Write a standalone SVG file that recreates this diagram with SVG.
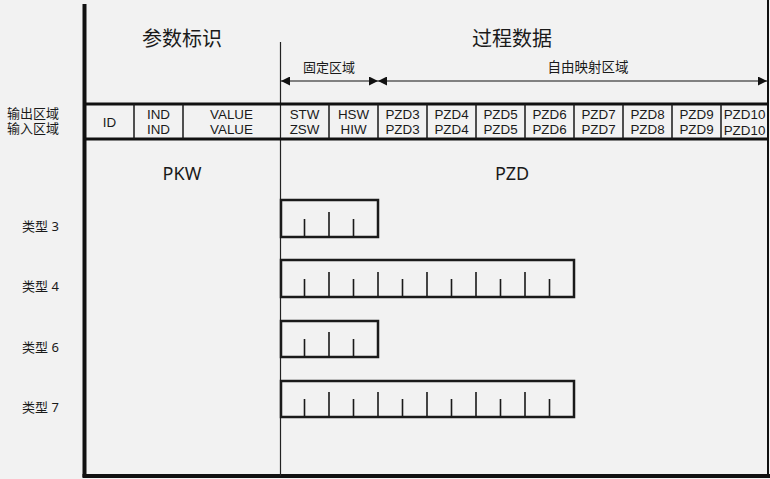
<svg xmlns="http://www.w3.org/2000/svg" width="770" height="479" viewBox="0 0 770 479">
<defs>
<style>
text{font-family:"Noto Sans","Noto Sans CJK SC",sans-serif;fill:#1a1a1a}
.t{font-family:"Liberation Sans","Noto Sans",sans-serif;font-size:13.4px;text-anchor:middle}
.big{font-size:20px;text-anchor:middle}
.mid{font-size:18px;text-anchor:middle}
.lab{font-size:13px}
.lab2{font-family:"Liberation Sans","Noto Sans CJK SC",sans-serif;font-size:13px}
.box{fill:none;stroke:#1a1a1a;stroke-width:2.5}
.tick{stroke:#1a1a1a;stroke-width:1.6}
.div{stroke:#1a1a1a;stroke-width:1.5}
</style>
<marker id="ah" viewBox="0 0 10 10" refX="10" refY="5" markerWidth="9" markerHeight="9" markerUnits="userSpaceOnUse" orient="auto-start-reverse">
<path d="M0,0 L10,5 L0,10 z" fill="#111"/>
</marker>
</defs>
<rect width="770" height="479" fill="#f2f2f2"/>
<g id="frame">
<line x1="84.5" y1="4" x2="84.5" y2="477" stroke="#111" stroke-width="4"/>
<line x1="82.5" y1="476" x2="770" y2="476" stroke="#111" stroke-width="4"/>
<line x1="768" y1="0" x2="768" y2="476" stroke="#111" stroke-width="2"/>
<line x1="280.5" y1="42" x2="280.5" y2="476" stroke="#222" stroke-width="1.2"/>
</g>
<g id="headers">
<text class="big" x="182" y="46">参数标识</text>
<text class="big" x="512" y="46">过程数据</text>
<text class="lab" x="329" y="72" text-anchor="middle">固定区域</text>
<text class="lab" x="588" y="72" text-anchor="middle" style="font-size:13.5px">自由映射区域</text>
<text class="lab2" x="7" y="118">输出区域<tspan x="7" y="132.5">输入区域</tspan></text>
<text class="mid" x="182" y="180">PKW</text>
<text class="mid" x="512" y="180">PZD</text>
</g>
<g id="connectors">
<line x1="281" y1="81" x2="378" y2="81" stroke="#111" stroke-width="1.2" marker-start="url(#ah)" marker-end="url(#ah)"/>
<line x1="378" y1="81" x2="767" y2="81" stroke="#111" stroke-width="1.2" marker-start="url(#ah)" marker-end="url(#ah)"/>
</g>
<g id="table">
<line x1="84" y1="104" x2="768" y2="104" stroke="#111" stroke-width="3"/>
<line x1="84" y1="139" x2="768" y2="139" stroke="#111" stroke-width="3"/>
<path class="div" d="M134,104V139M183,104V139M329,104V139M378,104V139M427,104V139M476,104V139M525,104V139M574,104V139M623,104V139M672,104V139M721,104V139"/>
<text class="t" x="109.5" y="126.5">ID</text>
<text class="t" x="158.5" y="119">IND<tspan x="158.5" y="134.2">IND</tspan></text>
<text class="t" x="231.5" y="119">VALUE<tspan x="231.5" y="134.2">VALUE</tspan></text>
<text class="t" x="304.5" y="119">STW<tspan x="304.5" y="134.2">ZSW</tspan></text>
<text class="t" x="353.5" y="119">HSW<tspan x="353.5" y="134.2">HIW</tspan></text>
<text class="t" x="402.5" y="119">PZD3<tspan x="402.5" y="134.2">PZD3</tspan></text>
<text class="t" x="451.5" y="119">PZD4<tspan x="451.5" y="134.2">PZD4</tspan></text>
<text class="t" x="500.5" y="119">PZD5<tspan x="500.5" y="134.2">PZD5</tspan></text>
<text class="t" x="549.5" y="119">PZD6<tspan x="549.5" y="134.2">PZD6</tspan></text>
<text class="t" x="598.5" y="119">PZD7<tspan x="598.5" y="134.2">PZD7</tspan></text>
<text class="t" x="647.5" y="119">PZD8<tspan x="647.5" y="134.2">PZD8</tspan></text>
<text class="t" x="696.5" y="119">PZD9<tspan x="696.5" y="134.2">PZD9</tspan></text>
<text class="t" x="744.5" y="119">PZD10<tspan x="744.5" y="134.5">PZD10</tspan></text>
</g>
<g id="type3">
<text class="lab" x="22" y="231">类型 3</text>
<rect class="box" x="281" y="200" width="97" height="37"/>
<path class="tick" d="M304.5,237V219M329,237V212M353.5,237V219"/>
</g>
<g id="type4">
<text class="lab" x="22" y="291">类型 4</text>
<rect class="box" x="281" y="260" width="293" height="37"/>
<path class="tick" d="M304.5,297V279M329,297V272M353.5,297V279M378,297V272M402.5,297V279M427,297V272M451.5,297V279M476,297V272M500.5,297V279M525,297V272M549.5,297V279"/>
</g>
<g id="type6">
<text class="lab" x="22" y="352">类型 6</text>
<rect class="box" x="281" y="321" width="97" height="36"/>
<path class="tick" d="M304.5,357V339M329,357V332M353.5,357V339"/>
</g>
<g id="type7">
<text class="lab" x="22" y="412">类型 7</text>
<rect class="box" x="281" y="381" width="293" height="36"/>
<path class="tick" d="M304.5,417V399M329,417V392M353.5,417V399M378,417V392M402.5,417V399M427,417V392M451.5,417V399M476,417V392M500.5,417V399M525,417V392M549.5,417V399"/>
</g>
</svg>
